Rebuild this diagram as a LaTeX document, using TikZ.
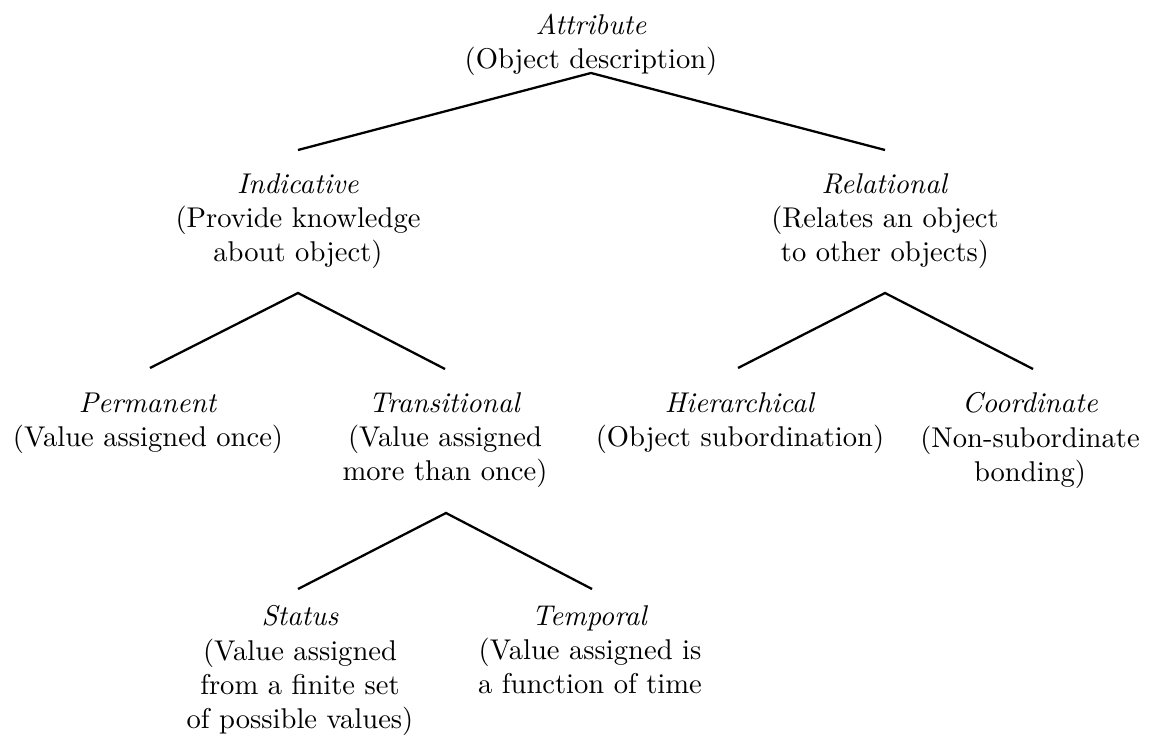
\documentclass[tikz,border=0pt]{standalone}
\usepackage{tikz}

\begin{document}
\begin{tikzpicture}[x=0.35pt, y=-0.35pt,
		lbl/.style={align=center, inner sep=0pt, anchor=north},
		branch/.style={line width=0.8pt, line join=miter}]
					\def\rowA{13};
					\def\rowB{173};
					\def\rowC{392};
					\def\rowD{605};

					\useasboundingbox (0,0) rectangle (1149,744);

					\begin{scope}
						\node [lbl] (attr) at (591,\rowA) {\textit{Attribute}\\(Object description)};
						\node [lbl] (indic) at (298,\rowB) {\textit{Indicative}\\(Provide knowledge\\about object)};
						\node [lbl] (relat) at (885,\rowB) {\textit{Relational}\\(Relates an object\\to other objects)};
						\node [lbl] (perm) at (148,\rowC) {\textit{Permanent}\\(Value assigned once)};
						\node [lbl] (trans) at (445,\rowC) {\textit{Transitional}\\(Value assigned\\more than once)};
						\node [lbl] (hier) at (740,\rowC) {\textit{Hierarchical}\\(Object subordination)};
						\node [lbl] (coord) at (1030,\rowC) {\textit{Coordinate}\\(Non-subordinate\\bonding)};
						\node [lbl] (status) at (300,\rowD) {\textit{Status}\\(Value assigned\\from a finite set\\of possible values)};
						\node [lbl] (temp) at (590,\rowD) {\textit{Temporal}\\(Value assigned is\\a function of time};
					\end{scope}

					\begin{scope}[branch]
						\coordinate (attrTop) at (591,73);
						\coordinate (attrL) at (298,150);
						\coordinate (attrR) at (885,150);
						\draw (attrL) -- (attrTop) -- (attrR);

						\coordinate (indicTop) at (298,293);
						\coordinate (indicL) at (150,368);
						\coordinate (indicR) at (445,369);
						\draw (indicL) -- (indicTop) -- (indicR);

						\coordinate (relatTop) at (885,293);
						\coordinate (relatL) at (738,368);
						\coordinate (relatR) at (1033,369);
						\draw (relatL) -- (relatTop) -- (relatR);

						\coordinate (transTop) at (446,513);
						\coordinate (transL) at (298,589);
						\coordinate (transR) at (592,589);
						\draw (transL) -- (transTop) -- (transR);
					\end{scope}
				\end{tikzpicture}
\end{document}
